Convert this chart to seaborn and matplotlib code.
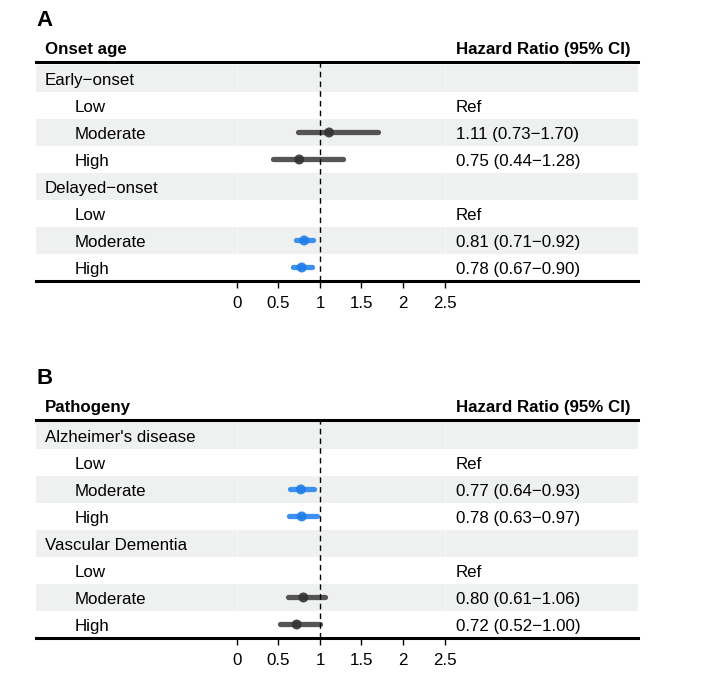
import matplotlib
matplotlib.use("Agg")
import matplotlib.pyplot as plt
import seaborn as sns
import pandas as pd
import numpy as np

sns.set_theme(style="white")
plt.rcParams['font.family'] = ['Liberation Sans', 'DejaVu Sans']
plt.rcParams['text.color'] = 'black'
plt.rcParams['xtick.color'] = 'black'

# ---- data ----
panelA_title = "Onset age"
panelA_rows = ["Early\u2212onset", "Low", "Moderate", "High", "Delayed\u2212onset", "Low", "Moderate", "High"]
panelA_hr = [np.nan, np.nan, 1.11, 0.75, np.nan, np.nan, 0.81, 0.78]
panelA_lo = [np.nan, np.nan, 0.73, 0.44, np.nan, np.nan, 0.71, 0.67]
panelA_hi = [np.nan, np.nan, 1.70, 1.28, np.nan, np.nan, 0.92, 0.90]
panelA_txt = ["", "Ref", "1.11 (0.73\u22121.70)", "0.75 (0.44\u22121.28)", "", "Ref", "0.81 (0.71\u22120.92)", "0.78 (0.67\u22120.90)"]

panelB_title = "Pathogeny"
panelB_rows = ["Alzheimer's disease", "Low", "Moderate", "High", "Vascular Dementia", "Low", "Moderate", "High"]
panelB_hr = [np.nan, np.nan, 0.77, 0.78, np.nan, np.nan, 0.80, 0.72]
panelB_lo = [np.nan, np.nan, 0.64, 0.63, np.nan, np.nan, 0.61, 0.52]
panelB_hi = [np.nan, np.nan, 0.93, 0.97, np.nan, np.nan, 1.06, 1.00]
panelB_txt = ["", "Ref", "0.77 (0.64\u22120.93)", "0.78 (0.63\u22120.97)", "", "Ref", "0.80 (0.61\u22121.06)", "0.72 (0.52\u22121.00)"]

is_group = [True, False, False, False, True, False, False, False]
xticks = [0, 0.5, 1, 1.5, 2, 2.5]
xticklabels = ["0", "0.5", "1", "1.5", "2", "2.5"]

GREY_LINE = "#555555"
GREY_PT = "#333333"
BLUE_LINE = "#3d8ff0"
BLUE_PT = "#1f7ee8"
BAND = "#eff1f0"
FS = 12.2

fig = plt.figure(figsize=(7.2, 6.81), dpi=100)

XL, XR = -2.42, 4.83
X_GROUP = -2.313
X_SUB = -1.952
X_HR = 2.639
TY = 0.56  # text vertical offset within a row


def draw_panel(ax, letter, title, rows, hr, lo, hi, txt, top_gap):
    n = len(rows)
    ax.set_xlim(XL, XR)
    ax.set_ylim(n, -top_gap)
    # bands
    for i in range(n):
        if i % 2 == 0:
            ax.axhspan(i, i + 1.0, color=BAND, lw=0, zorder=0)
    # faint column separators
    for xv in [0, 2.5]:
        ax.vlines(xv, 0, n, color="white", lw=0.5, alpha=0.7, zorder=0.5)
    df = pd.DataFrame({"row": np.arange(n) + 0.5, "hr": hr, "lo": lo, "hi": hi})
    df = df.dropna()
    df["sig"] = np.where(df["hi"] < 1, "sig", "ns")
    line_pal = {"sig": BLUE_LINE, "ns": GREY_LINE}
    pt_pal = {"sig": BLUE_PT, "ns": GREY_PT}
    for _, r in df.iterrows():
        ax.hlines(r["row"], r["lo"], r["hi"], color=line_pal[r["sig"]], lw=3.8,
                  zorder=1, capstyle="round")
    # reference line
    ax.axvline(1, color="black", lw=1.0, ls=(0, (4, 3)), zorder=2)
    sns.scatterplot(data=df, x="hr", y="row", hue="sig", palette=pt_pal, s=52, alpha=0.9,
                    edgecolor="none", legend=False, ax=ax, zorder=3)
    # text
    for i, lab in enumerate(rows):
        xpos = X_GROUP if is_group[i] else X_SUB
        ax.text(xpos, i + TY, lab, ha="left", va="center", fontsize=FS, color="black")
        if txt[i]:
            ax.text(X_HR, i + TY, txt[i], ha="left", va="center", fontsize=FS, color="black")
    ax.text(X_GROUP, -top_gap - 0.47, title, ha="left", va="center", fontsize=FS,
            fontweight="bold", clip_on=False)
    ax.text(X_HR, -top_gap - 0.47, "Hazard Ratio (95% CI)", ha="left", va="center", fontsize=FS,
            fontweight="bold", clip_on=False)
    ax.text(XL, -top_gap - 1.52, letter, ha="left", va="center", fontsize=16, fontweight="bold",
            clip_on=False)
    # axes styling
    for s in ["left", "right"]:
        ax.spines[s].set_visible(False)
    ax.spines["top"].set_linewidth(2.2)
    ax.spines["bottom"].set_linewidth(2.2)
    ax.spines["top"].set_color("black")
    ax.spines["bottom"].set_color("black")
    ax.set_yticks([])
    ax.set_xticks(xticks)
    ax.set_xticklabels(xticklabels, fontsize=FS, color="black")
    ax.tick_params(axis="x", bottom=True, length=5, width=1, color="black", pad=6)
    ax.set_xlabel("")
    ax.set_ylabel("")


axA = fig.add_axes([36 / 720, 1 - 281 / 681, 602 / 720, 219 / 681])
draw_panel(axA, "A", panelA_title, panelA_rows, panelA_hr, panelA_lo, panelA_hi, panelA_txt, 0.11)
axB = fig.add_axes([36 / 720, 1 - 638 / 681, 602 / 720, 218 / 681])
draw_panel(axB, "B", panelB_title, panelB_rows, panelB_hr, panelB_lo, panelB_hi, panelB_txt, 0.07)

fig.savefig("out.png", dpi=100, facecolor="white")
